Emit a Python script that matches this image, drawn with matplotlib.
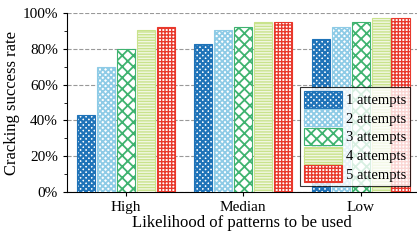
import numpy as np
import matplotlib.pyplot as plt
from matplotlib.ticker import MultipleLocator, PercentFormatter

plt.rcParams['font.family'] = ['Liberation Serif', 'DejaVu Serif']

groups = ['High', 'Median', 'Low']
series = ['1 attempts', '2 attempts', '3 attempts', '4 attempts', '5 attempts']
rates = [
    [43, 82.5, 85.5],
    [70, 90.5, 92.5],
    [80, 92.5, 95.3],
    [90.5, 95.3, 97.5],
    [92.5, 95.3, 97.5],
]
colors = ['#1f73b8', '#8ecbe6', '#3fb370', '#c9e38c', '#e8382c']
faces = ['#ffffff', '#ffffff', '#ffffff', '#f1f7e2', '#ffffff']
hatches = ['xxxxxx', 'xxxxxx', 'xxx', '------', '+++++']
hatch_lw = [1.6, 1.3, 1.3, 1.0, 1.0]

fig = plt.figure(figsize=(4.17, 2.4), dpi=100)
ax = fig.add_axes([0.161, 0.2, 0.839, 0.745])

x = np.arange(len(groups))
width = 0.155
step = 0.17
for i, name in enumerate(series):
    bars = ax.bar(x + (i - 2) * step, rates[i], width, label=name,
                  facecolor=faces[i], edgecolor=colors[i], hatch=hatches[i],
                  linewidth=0.8, zorder=3)
    for b in bars:
        b.set_hatch_linewidth(hatch_lw[i])

ax.set_xlim(-0.5, 2.48)
ax.set_ylim(0, 100)
ax.set_xticks(x)
ax.set_xticklabels(groups, fontsize=11)
ax.yaxis.set_major_locator(MultipleLocator(20))
ax.yaxis.set_minor_locator(MultipleLocator(10))
ax.yaxis.set_major_formatter(PercentFormatter(decimals=0))
ax.tick_params(axis='y', labelsize=11, direction='out', length=3)
ax.tick_params(axis='y', which='minor', length=2)
ax.tick_params(axis='x', length=3)
ax.grid(axis='y', linestyle='--', color='#999999', linewidth=0.8, zorder=0)
ax.spines['top'].set_visible(False)
ax.spines['right'].set_visible(False)
ax.set_xlabel('Likelihood of patterns to be used', fontsize=12, labelpad=1)
ax.set_ylabel('Cracking success rate', fontsize=12, labelpad=2)

leg = ax.legend(loc='lower right', bbox_to_anchor=(0.98, 0.035), fontsize=10.5,
                frameon=True, fancybox=False, edgecolor='black',
                handlelength=2.6, handleheight=1.4, borderpad=0.25,
                labelspacing=0.12, handletextpad=0.3, borderaxespad=0)
leg.get_frame().set_linewidth(0.8)
leg.set_zorder(5)
for h, lw in zip(leg.legend_handles, hatch_lw):
    h.set_hatch_linewidth(lw)

fig.savefig('out.png', dpi=100)
